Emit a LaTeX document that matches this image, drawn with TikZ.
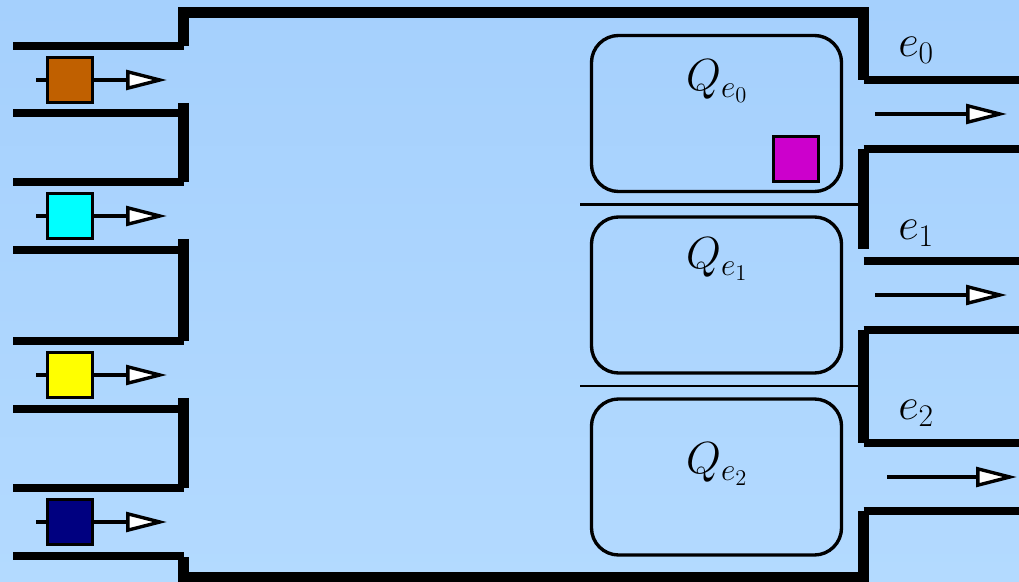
\RequirePackage{fix-cm}
\documentclass[tikz,border=0pt]{standalone}
\usepackage{tikz}
\usetikzlibrary{arrows.meta,positioning}
\definecolor{ductbgtop}{RGB}{165,208,253}
\definecolor{ductbgbot}{RGB}{179,218,255}
\definecolor{pktorange}{RGB}{192,96,0}
\definecolor{pktcyan}{RGB}{0,255,255}
\definecolor{pktyellow}{RGB}{255,255,0}
\definecolor{pktnavy}{RGB}{0,0,128}
\definecolor{pktmagenta}{RGB}{204,0,204}

\begin{document}
\begin{tikzpicture}[x=0.025cm,y=-0.025cm,font=\fontsize{32}{38}\selectfont,
  wall/.style={line width=7.6pt,line cap=butt,line join=miter},
  chan/.style={line width=5pt},
  sep/.style={line width=2.1pt},
  pkt/.style={rectangle,draw,line width=2.3pt,minimum size=1.12cm,inner sep=0pt},
  queue/.style={rectangle,rounded corners=0.68cm,draw,line width=2.4pt,minimum width=6.25cm,minimum height=3.9cm},
  flow/.style={-{Triangle[length=29pt,width=14pt,fill=white]},line width=2.4pt},
  lbl/.style={inner sep=0pt,anchor=base west},
  qlbl/.style={inner sep=0pt,anchor=base}]
% background
\useasboundingbox (0,0) rectangle (1019,582);
\fill[top color=ductbgtop,bottom color=ductbgbot] (0,0) rectangle (1019,582);
% outer walls
\draw[wall] (183.5,46) -- (183.5,12.5) -- (863.5,12.5) -- (863.5,80);
\draw[wall] (183.5,103) -- (183.5,182);
\draw[wall] (183.5,239) -- (183.5,341);
\draw[wall] (183.5,398) -- (183.5,488);
\draw[wall] (183.5,557) -- (183.5,577.5) -- (863.5,577.5) -- (863.5,511);
\draw[wall] (863.5,149) -- (863.5,249);
\draw[wall] (863.5,330) -- (863.5,443);
% input channels
\draw[chan] (13,46) -- (183.5,46);  \draw[chan] (13,113) -- (183.5,113);
\draw[chan] (13,182) -- (183.5,182); \draw[chan] (13,250) -- (183.5,250);
\draw[chan] (13,341) -- (183.5,341); \draw[chan] (13,409) -- (183.5,409);
\draw[chan] (13,488) -- (183.5,488); \draw[chan] (13,556) -- (183.5,556);
% output channels
\draw[chan] (863.5,80) -- (1019,80);   \draw[chan] (863.5,149) -- (1019,149);
\draw[chan] (863.5,261) -- (1019,261); \draw[chan] (863.5,330) -- (1019,330);
\draw[chan] (863.5,443) -- (1019,443); \draw[chan] (863.5,511) -- (1019,511);
% queue separators
\coordinate (s0w) at (580,204.5); \coordinate (s0e) at (863.5,204.5);
\coordinate (s1w) at (580,386);   \coordinate (s1e) at (863.5,386);
\draw[sep] (s0w) -- (s0e);
\draw[sep] (s1w) -- (s1e);
% queues
\node[queue] (qe0) at (716.5,113.5) {};
\node[queue] (qe1) at (716.5,295) {};
\node[queue] (qe2) at (716.5,477) {};
\node[qlbl] (lqe0) at (717,91) {$Q_{e_0}$};
\node[qlbl] (lqe1) at (717,269) {$Q_{e_1}$};
\node[qlbl] (lqe2) at (717,474) {$Q_{e_2}$};
\node[pkt,fill=pktmagenta] (pq0) at (796,159) {};
% incoming packets
\coordinate (in0w) at (36,80);  \coordinate (in0e) at (167,80);
\coordinate (in1w) at (36,216); \coordinate (in1e) at (167,216);
\coordinate (in2w) at (36,375); \coordinate (in2e) at (167,375);
\coordinate (in3w) at (36,522); \coordinate (in3e) at (167,522);
\draw[flow] (in0w) -- (in0e); \draw[flow] (in1w) -- (in1e);
\draw[flow] (in2w) -- (in2e); \draw[flow] (in3w) -- (in3e);
\node[pkt,fill=pktorange] (pin0) at (70,80) {};
\node[pkt,fill=pktcyan] (pin1) at (70,216) {};
\node[pkt,fill=pktyellow] (pin2) at (70,375) {};
\node[pkt,fill=pktnavy] (pin3) at (70,522) {};
% outgoing edges
\coordinate (out0w) at (875,114); \coordinate (out0e) at (1007,114);
\coordinate (out1w) at (875,295); \coordinate (out1e) at (1007,295);
\coordinate (out2w) at (887,477); \coordinate (out2e) at (1017,477);
\draw[flow] (out0w) -- (out0e);
\draw[flow] (out1w) -- (out1e);
\draw[flow] (out2w) -- (out2e);
\node[lbl] (le0) at (898,57) {$e_0$};
\node[lbl] (le1) at (898,240) {$e_1$};
\node[lbl] (le2) at (898,420) {$e_2$};
\end{tikzpicture}
\end{document}
